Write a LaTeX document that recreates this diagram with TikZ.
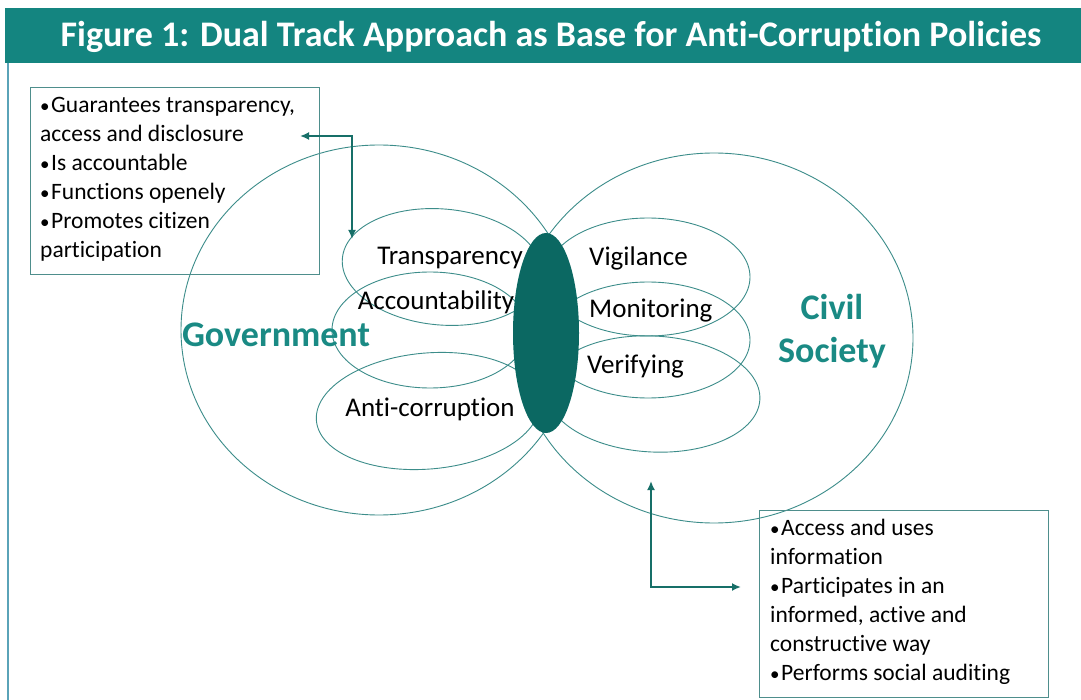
\documentclass[tikz,border=0pt]{standalone}
\usepackage{fontspec}
\setmainfont{Carlito}[Ligatures={NoCommon}]
\usetikzlibrary{arrows.meta,shapes.geometric}
\definecolor{band}{HTML}{148580}
\definecolor{core}{HTML}{0B6862}
\definecolor{arrowteal}{HTML}{176F68}
\definecolor{thinteal}{HTML}{3C8D8A}
\definecolor{titleteal}{HTML}{1A8A84}
\definecolor{boxline}{HTML}{4E8E8C}
\definecolor{frameblue}{HTML}{5AA3B8}
\newcommand\bul{{\fontsize{19}{19}\selectfont\textbullet}\hspace{1.5pt}}
\tikzset{
  petal/.style={ellipse, draw=thinteal, line width=0.9pt, inner sep=0pt},
  ring/.style={ellipse, draw=thinteal, line width=0.9pt, inner sep=0pt},
  petaltext/.style={font=\fontsize{27}{32}\selectfont, text=black, inner sep=0pt},
  sidetitle/.style={font=\bfseries\fontsize{36}{43}\selectfont, text=titleteal, inner sep=0pt, align=center},
  notebox/.style={draw=boxline, line width=1pt, inner sep=0pt},
  notetext/.style={font=\fontsize{23.5}{29}\selectfont, text=black, align=left, inner sep=0pt, anchor=north west},
  biarrow/.style={draw=arrowteal, line width=2.6pt, {Latex[length=9pt,width=8pt]}-{Latex[length=9pt,width=8pt]}},
}
\begin{document}
\begin{tikzpicture}[x=1pt,y=-1pt]
\useasboundingbox (0,0) rectangle (1081,700);
\fill[white] (0,0) rectangle (1081,700);

% header band and frame
\fill[band] (5,8) rectangle (1081,63);
\node[font=\bfseries\fontsize{36}{40}\selectfont, text=white, inner sep=0pt] (title) at (551,37) {Figure 1: Dual Track Approach as Base for Anti-Corruption Policies};
\draw[frameblue, line width=2pt] (8,63) -- (8,700);

% the two large spheres
\node[ring, minimum width=396pt, minimum height=370pt] (gov) at (379,330) {};
\node[ring, minimum width=398pt, minimum height=370pt] (civ) at (714,338) {};

% government petals
\node[petal, minimum width=200pt, minimum height=116pt, rotate=-5] (tp) at (442,267) {};
\node[petal, minimum width=196pt, minimum height=116pt] (ac) at (430,330) {};
\node[petal, minimum width=224pt, minimum height=116pt, rotate=5] (anti) at (428,411) {};

% civil society petals
\node[petal, minimum width=204pt, minimum height=118pt] (vg) at (648,277) {};
\node[petal, minimum width=204pt, minimum height=116pt] (mo) at (648,340) {};
\node[petal, minimum width=214pt, minimum height=116pt, rotate=-3] (ve) at (653,394) {};

% the shared core
\node[ellipse, fill=core, minimum width=66pt, minimum height=200pt, inner sep=0pt] (core) at (546,333) {};

% labels
\node[petaltext] (ltp) at (450,258) {Transparency};
\node[petaltext] (lac) at (436,302) {Accountability};
\node[petaltext] (lanti) at (430,409) {Anti-corruption};
\node[petaltext, anchor=west] (lvg) at (589,258) {Vigilance};
\node[petaltext, anchor=west] (lmo) at (589,311) {Monitoring};
\node[petaltext, anchor=west] (lve) at (587,367) {Verifying};

\node[sidetitle] (lgov) at (276,335) {Government};
\node[sidetitle] (lciv) at (832,331) {Civil\\[0pt]Society};

% note boxes
\draw[notebox] (30,88) rectangle (319,275);
\node[notetext] (govnote) at (40,97) {\bul Guarantees transparency,\\access and disclosure\\\bul Is accountable\\\bul Functions openely\\\bul Promotes citizen\\participation};

\draw[notebox] (759,510) rectangle (1048,697);
\node[notetext] (civnote) at (770,519) {\bul Access and uses\\information\\\bul Participates in an\\informed, active and\\constructive way\\\bul Performs social auditing};

% connectors
\coordinate (govtip) at (300,136);
\coordinate (tptip) at (352,239);
\draw[biarrow] (govtip) -| (tptip);
\coordinate (civtip) at (651,481);
\coordinate (civbox) at (741,587);
\draw[biarrow] (civtip) |- (civbox);
\end{tikzpicture}
\end{document}
